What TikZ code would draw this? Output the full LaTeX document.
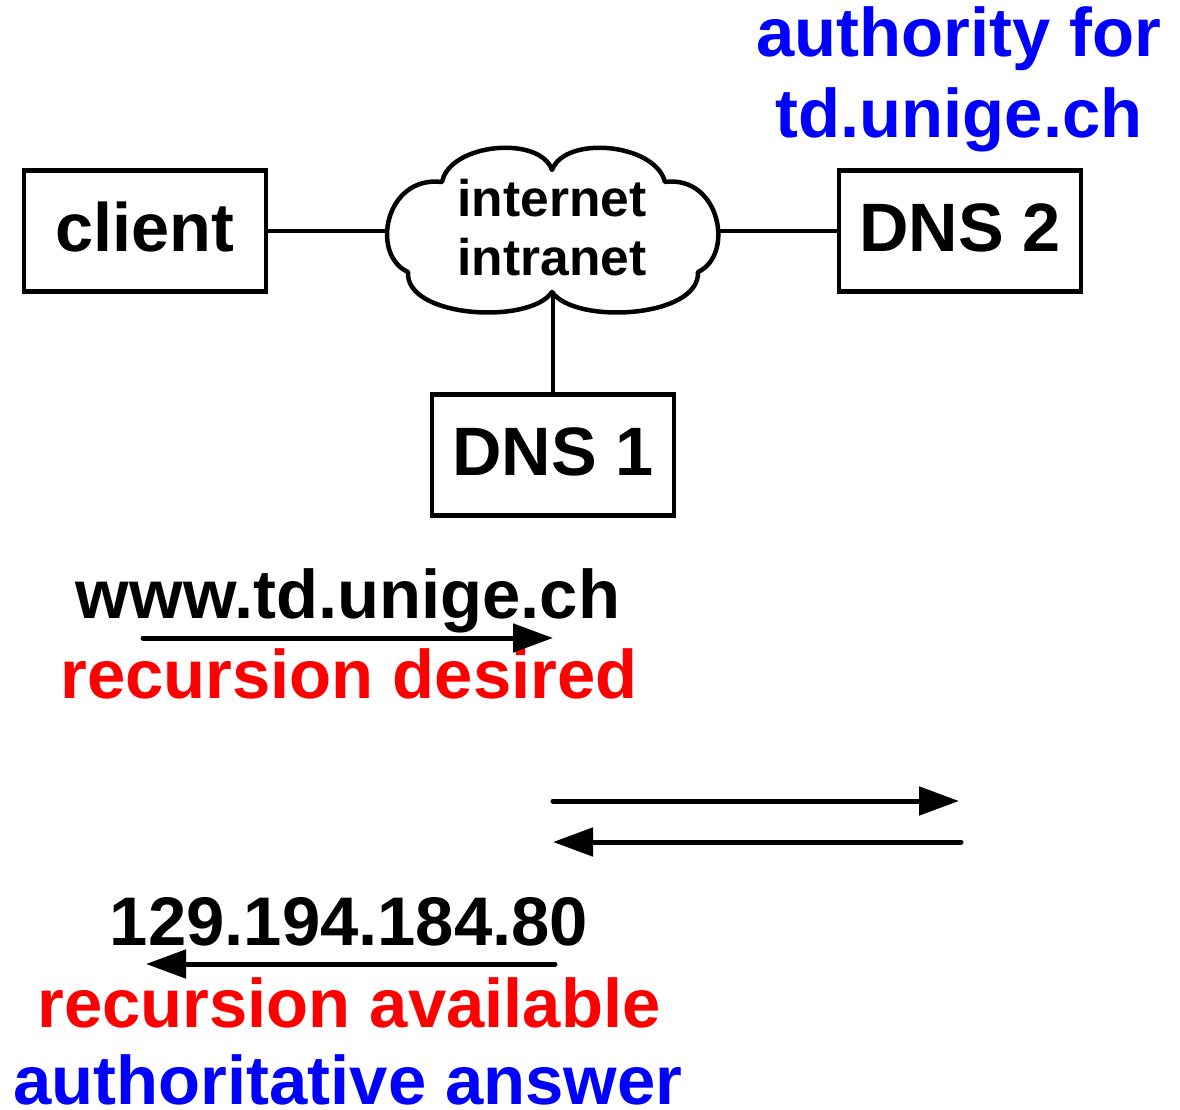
\documentclass[tikz,border=0pt]{standalone}
\usepackage{fontspec}
\setmainfont{Liberation Sans}
\usetikzlibrary{arrows.meta}
\definecolor{pblue}{RGB}{0,0,255}
\definecolor{pred}{RGB}{255,0,0}
\begin{document}
\begin{tikzpicture}[x=1pt,y=-1pt,
  hostbox/.style={draw, line width=4.5pt, minimum width=242pt, minimum height=121pt, inner sep=0pt,
    font=\fontsize{68.5}{80}\selectfont\bfseries, text height=49pt, text depth=9pt},
  link/.style={line width=4pt},
  msg/.style={line width=5pt, line cap=round, -{Triangle[length=40pt,width=28pt]}},
  lbl/.style={anchor=base, inner sep=0pt, font=\fontsize{68.8}{80}\selectfont\bfseries},
  cloudtxt/.style={anchor=base, inner sep=0pt, font=\fontsize{51.5}{60}\selectfont\bfseries}]
\useasboundingbox (0,0) rectangle (1180,1110);
% hosts
\node[hostbox] (client) at (145,231) {client};
\node[hostbox] (dns2) at (960,231) {DNS 2};
\node[hostbox] (dns1) at (553,455) {DNS 1};
% cloud
\draw[line width=4.5pt, line join=round]
  (442,182) .. controls (450,143) and (540,135) .. (552,170)
  .. controls (565,135) and (655,143) .. (665,182)
  .. controls (720,175) and (735,255) .. (698,272)
  .. controls (700,318) and (575,325) .. (552,292)
  .. controls (530,325) and (405,318) .. (408,272)
  .. controls (370,255) and (385,175) .. (442,182) -- cycle;
\node[cloudtxt] (inet) at (552,217) {internet};
\node[cloudtxt] (intra) at (552,275) {intranet};
\coordinate (cL) at (388,231);
\coordinate (cR) at (716,231);
\coordinate (cB) at (553,293);
\draw[link] (client.east) -- (cL);
\draw[link] (cR) -- (dns2.west);
\draw[link] (cB) -- (dns1.north);
% labels
\node[lbl, text=pblue] (auth1) at (959,57) {authority for};
\node[lbl, text=pblue] (auth2) at (959,138) {td.unige.ch};
\node[lbl] (q) at (348,618) {www.td.unige.ch};
\node[lbl, text=pred] (rd) at (349,698) {recursion desired};
\node[lbl] (ans) at (349,945) {129.194.184.80};
\node[lbl, text=pred] (ra) at (349,1027) {recursion available};
\node[lbl, text=pblue] (aa) at (348,1104) {authoritative answer};
% message arrows
\coordinate (a1s) at (143,638);
\coordinate (a1e) at (553,638);
\coordinate (a2s) at (553,801);
\coordinate (a2e) at (959,801);
\coordinate (a3s) at (961,842);
\coordinate (a3e) at (553,842);
\coordinate (a4s) at (555,964);
\coordinate (a4e) at (146,964);
\draw[msg] (a1s) -- (a1e);
\draw[msg] (a2s) -- (a2e);
\draw[msg] (a3s) -- (a3e);
\draw[msg] (a4s) -- (a4e);
\end{tikzpicture}
\end{document}
